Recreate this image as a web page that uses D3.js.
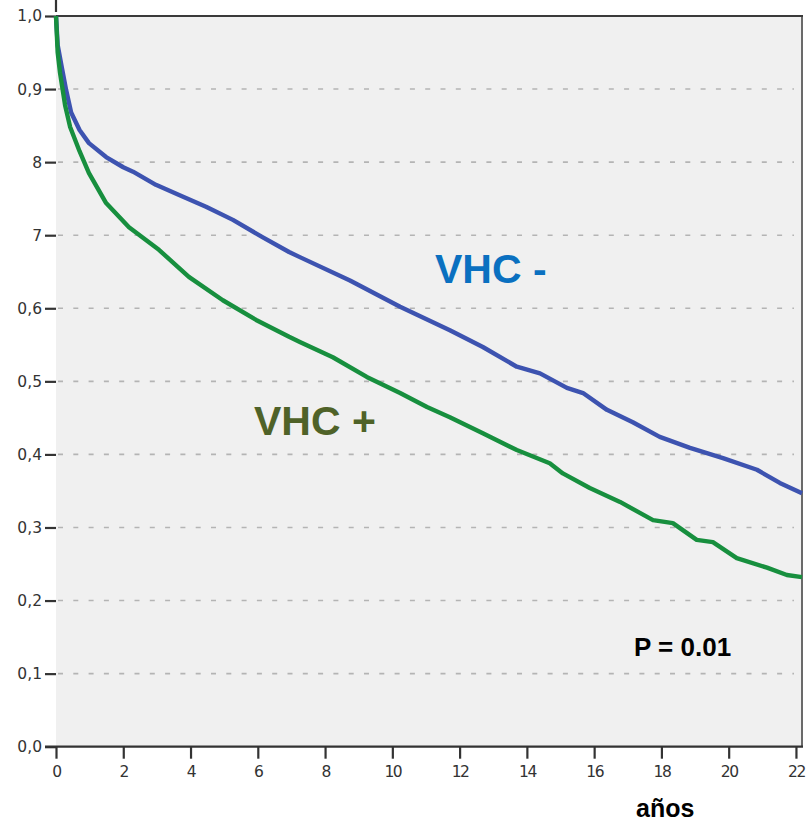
<!DOCTYPE html>
<html>
<head>
<meta charset="utf-8">
<script src="https://cdn.jsdelivr.net/npm/d3@7"></script>
<style>
  html, body { margin: 0; padding: 0; background: #ffffff; }
  svg { display: block; }
</style>
</head>
<body>
<svg id="chart" width="807" height="825"></svg>
<script>
// ---- data ----
const yTicks = [0, 0.1, 0.2, 0.3, 0.4, 0.5, 0.6, 0.7, 0.8, 0.9, 1.0];
const yTickLabels = ["0,0", "0,1", "0,2", "0,3", "0,4", "0,5", "0,6", "7", "8", "0,9", "1,0"];
const xTicks = [0, 2, 4, 6, 8, 10, 12, 14, 16, 18, 20, 22];
const xTickLabels = ["0", "2", "4", "6", "8", "10", "12", "14", "16", "18", "20", "22"];

const vhcNegT = [0, 0.05, 0.18, 0.3, 0.45, 0.7, 0.98, 1.49, 2.0, 2.29, 2.97, 3.66, 4.46, 5.26, 6.15, 6.93, 7.25, 8.74, 10.23, 11.71, 12.69, 13.7, 14.39, 15.19, 15.67, 16.38, 17.15, 17.95, 18.85, 19.83, 20.84, 21.52, 22.18];
const vhcNegS = [1.0, 0.96, 0.928, 0.899, 0.868, 0.844, 0.826, 0.807, 0.793, 0.787, 0.769, 0.755, 0.739, 0.721, 0.697, 0.677, 0.670, 0.638, 0.602, 0.570, 0.547, 0.520, 0.511, 0.491, 0.484, 0.461, 0.444, 0.424, 0.409, 0.395, 0.379, 0.361, 0.347];

const vhcPosT = [0, 0.05, 0.12, 0.27, 0.42, 0.7, 0.98, 1.49, 2.17, 3.06, 3.95, 4.96, 5.95, 6.93, 7.25, 8.23, 9.24, 10.23, 11.03, 11.71, 12.69, 13.7, 14.68, 15.07, 15.87, 16.77, 17.75, 18.34, 19.05, 19.53, 20.24, 21.14, 21.73, 22.18];
const vhcPosS = [1.0, 0.95, 0.922, 0.878, 0.848, 0.815, 0.785, 0.744, 0.711, 0.680, 0.643, 0.611, 0.584, 0.561, 0.554, 0.533, 0.506, 0.484, 0.465, 0.451, 0.429, 0.406, 0.388, 0.374, 0.354, 0.335, 0.310, 0.306, 0.283, 0.280, 0.258, 0.245, 0.235, 0.232];

const seriesNames = ["VHC -", "VHC +"];
const annotation = "P = 0.01";
const xTitle = "años";

// ---- layout ----
const svg = d3.select("#chart");
const pLeft = 56, pRight = 802, pTop = 16, pBottom = 746.7;

const x = d3.scaleLinear().domain([0, 22.18]).range([pLeft, pRight]);
const y = d3.scaleLinear().domain([0, 1]).range([pBottom, pTop]);

// plot background
svg.append("rect")
  .attr("x", pLeft).attr("y", pTop)
  .attr("width", pRight - pLeft).attr("height", pBottom - pTop)
  .attr("fill", "#f0f0f0");

// grid lines (dashed)
svg.append("g").selectAll("line")
  .data(yTicks.filter(d => d > 0 && d < 1))
  .join("line")
  .attr("x1", pLeft + 2).attr("x2", pRight - 8)
  .attr("y1", d => y(d)).attr("y2", d => y(d))
  .attr("stroke", "#b4b4b4")
  .attr("stroke-width", 1.6)
  .attr("stroke-dasharray", "5,10.3");

// frame: right border grey, top dark
svg.append("line").attr("x1", pRight).attr("x2", pRight).attr("y1", pTop).attr("y2", pBottom)
  .attr("stroke", "#6a6a6a").attr("stroke-width", 2);
svg.append("line").attr("x1", pLeft).attr("x2", pRight + 1).attr("y1", pTop).attr("y2", pTop)
  .attr("stroke", "#3a3a3a").attr("stroke-width", 2);

// axes
const yAxis = d3.axisLeft(y)
  .tickValues(yTicks)
  .tickFormat((d, i) => yTickLabels[i])
  .tickSize(11).tickPadding(3);
const gy = svg.append("g").attr("transform", `translate(${pLeft},0)`).call(yAxis);

const xAxis = d3.axisBottom(x)
  .tickValues(xTicks)
  .tickFormat((d, i) => xTickLabels[i])
  .tickSize(12).tickPadding(7);
const gx = svg.append("g").attr("transform", `translate(0,${pBottom})`).call(xAxis);

[gy, gx].forEach(g => {
  g.select(".domain").attr("stroke", "#333").attr("stroke-width", 2.2);
  g.selectAll(".tick line").attr("stroke", "#333").attr("stroke-width", 2.2);
  g.selectAll(".tick text")
    .attr("fill", "#333")
    .style("font-family", "'DejaVu Sans', sans-serif")
    .style("font-size", "15.5px");
});
gy.select(".domain").attr("d", `M0,12V${pTop - pBottom}`);
gx.select(".domain").attr("d", `M${pLeft - 11},0H${pRight + 1}`);
gx.selectAll(".tick text").attr("letter-spacing", "-1.5px");

// survival curves
const line = d3.line()
  .x(d => x(d[0]))
  .y(d => y(d[1]))
  .curve(d3.curveLinear);

const negData = vhcNegT.map((t, i) => [t, vhcNegS[i]]);
const posData = vhcPosT.map((t, i) => [t, vhcPosS[i]]);

svg.append("path")
  .datum(negData)
  .attr("d", line)
  .attr("fill", "none")
  .attr("stroke", "#3d53b0")
  .attr("stroke-width", 4.4)
  .attr("stroke-linejoin", "round");

svg.append("path")
  .datum(posData)
  .attr("d", line)
  .attr("fill", "none")
  .attr("stroke", "#178f3e")
  .attr("stroke-width", 4.4)
  .attr("stroke-linejoin", "round");

// labels
svg.append("text")
  .attr("x", 435).attr("y", 283)
  .attr("fill", "#0a70c0")
  .style("font-family", "'Liberation Sans', Arial, sans-serif")
  .style("font-weight", "bold")
  .style("font-size", "41px")
  .text(seriesNames[0]);

svg.append("text")
  .attr("x", 254).attr("y", 435)
  .attr("fill", "#4f6228")
  .style("font-family", "'Liberation Sans', Arial, sans-serif")
  .style("font-weight", "bold")
  .style("font-size", "41px")
  .text(seriesNames[1]);

svg.append("text")
  .attr("x", 634).attr("y", 656)
  .attr("fill", "#000")
  .style("font-family", "'Liberation Sans', Arial, sans-serif")
  .style("font-weight", "bold")
  .style("font-size", "26px")
  .text(annotation);

svg.append("text")
  .attr("x", 636).attr("y", 817)
  .attr("fill", "#000")
  .style("font-family", "'Liberation Sans', Arial, sans-serif")
  .style("font-weight", "bold")
  .style("font-size", "25px")
  .text(xTitle);
</script>
</body>
</html>
